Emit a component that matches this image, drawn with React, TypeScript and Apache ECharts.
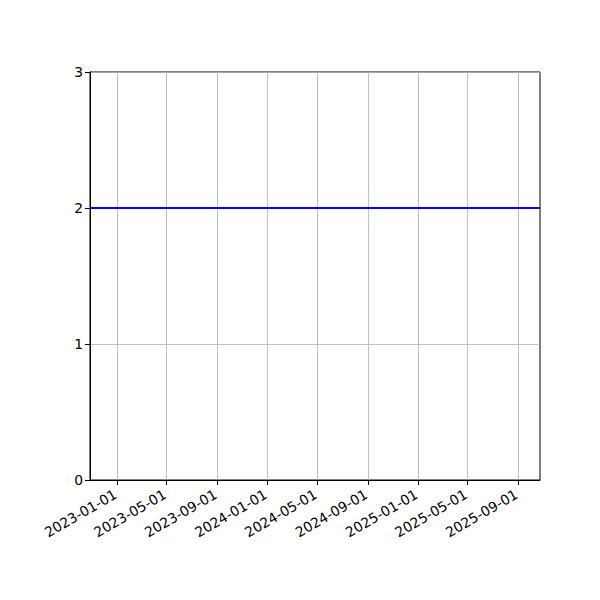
import React, { useEffect, useRef } from "react";
import * as echarts from "echarts";

const xRange = ["2022-10-27", "2025-10-24"];
const tickDates = [
  "2023-01-01",
  "2023-05-01",
  "2023-09-01",
  "2024-01-01",
  "2024-05-01",
  "2024-09-01",
  "2025-01-01",
  "2025-05-01",
  "2025-09-01",
];
const lineDates = ["2022-10-27", "2025-10-24"];
const lineValues = [2, 2];
const yTicks = [0, 1, 2, 3];

const toMs = (s: string) => {
  const [y, m, d] = s.split("-").map(Number);
  return Date.UTC(y, m - 1, d);
};
const fmt = (v: number) => {
  const d = new Date(v);
  const p = (n: number) => String(n).padStart(2, "0");
  return `${d.getUTCFullYear()}-${p(d.getUTCMonth() + 1)}-${p(d.getUTCDate())}`;
};

export default function App() {
  const ref = useRef<HTMLDivElement>(null);
  useEffect(() => {
    if (!ref.current) return;
    const chart = echarts.init(ref.current, null, { renderer: "svg" });
    const font = "DejaVu Sans";
    const tickMs = tickDates.map(toMs);
    chart.setOption({
      animation: false,
      backgroundColor: "#fff",
      textStyle: { fontFamily: font },
      grid: {
        left: 90,
        top: 72,
        width: 450,
        height: 408,
        show: true,
        borderColor: "#000",
        borderWidth: 1,
        backgroundColor: "transparent",
        containLabel: false,
      },
      xAxis: {
        type: "value",
        min: toMs(xRange[0]),
        max: toMs(xRange[1]),
        axisLine: { show: true, onZero: false, lineStyle: { color: "#000", width: 1 } },
        axisTick: {
          show: true,
          inside: false,
          length: 5,
          customValues: tickMs,
          lineStyle: { color: "#000", width: 1 },
        },
        axisLabel: {
          customValues: tickMs,
          formatter: (v: number) => fmt(v),
          rotate: 30,
          align: "right",
          verticalAlign: "top",
          padding: [0, 6, 0, 0],
          color: "#000",
          fontSize: 13.9,
          fontFamily: font,
          margin: 4,
        },
        splitLine: { show: true, lineStyle: { color: "#b0b0b0", width: 0.8 } },
      },
      yAxis: {
        type: "value",
        min: yTicks[0],
        max: yTicks[yTicks.length - 1],
        interval: 1,
        axisLine: { show: true, lineStyle: { color: "#000", width: 1 } },
        axisTick: { show: true, inside: false, length: 5, lineStyle: { color: "#000", width: 1 } },
        axisLabel: { color: "#000", fontSize: 13.9, fontFamily: font, margin: 7 },
        splitLine: { show: true, lineStyle: { color: "#b0b0b0", width: 0.8 } },
      },
      series: [
        {
          type: "line",
          data: lineDates.map((d, i) => [toMs(d), lineValues[i]]),
          symbol: "none",
          lineStyle: { color: "#0000ff", width: 2 },
          itemStyle: { color: "#0000ff" },
          z: 5,
        },
      ],
    });
    return () => chart.dispose();
  }, []);
  return (
    <div
      ref={ref}
      style={{ position: "absolute", left: 0, top: 0, width: 600, height: 600, background: "#fff" }}
    />
  );
}
